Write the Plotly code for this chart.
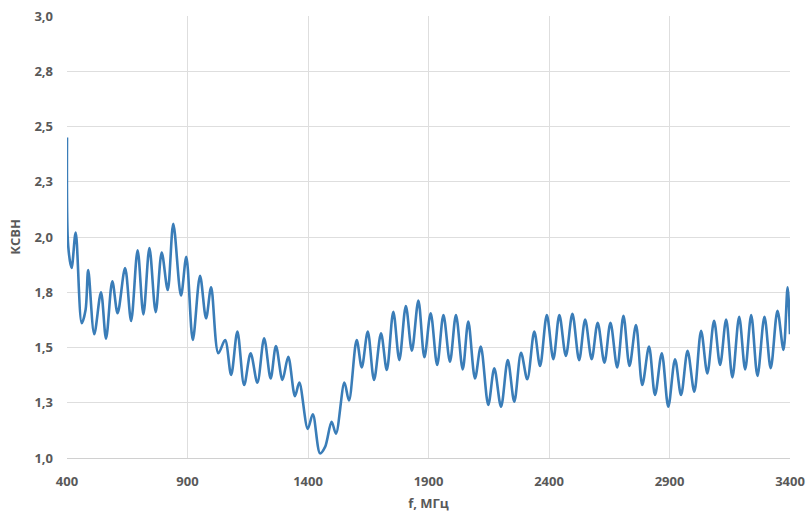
import plotly.graph_objects as go

freq_mhz = [
    400, 405, 419, 436, 461, 477, 488, 513, 541, 562,
    588, 610, 641, 666, 693, 717, 742, 768, 793, 818,
    841, 873, 895, 922, 952, 977, 998, 1028, 1056, 1081,
    1107, 1135, 1162, 1190, 1218, 1245, 1267, 1294, 1318, 1346,
    1364, 1399, 1420, 1450, 1471, 1498, 1516, 1551, 1570, 1602,
    1623, 1648, 1674, 1703, 1727, 1754, 1779, 1806, 1831, 1858,
    1883, 1909, 1936, 1962, 1989, 2014, 2042, 2065, 2093, 2117,
    2148, 2173, 2201, 2229, 2256, 2284, 2310, 2339, 2363, 2391,
    2418, 2443, 2470, 2497, 2525, 2550, 2577, 2602, 2630, 2655,
    2683, 2709, 2734, 2761, 2787, 2815, 2840, 2868, 2895, 2923,
    2948, 2975, 3003, 3031, 3057, 3085, 3110, 3135, 3161, 3189,
    3214, 3239, 3265, 3294, 3320, 3348, 3373, 3390, 3400,
]

vswr = [
    2.45, 1.96, 1.86, 2.02, 1.61, 1.67, 1.85, 1.56, 1.75, 1.54,
    1.80, 1.655, 1.86, 1.62, 1.94, 1.65, 1.95, 1.66, 1.93, 1.76,
    2.06, 1.735, 1.91, 1.534, 1.824, 1.632, 1.772, 1.474, 1.534, 1.376,
    1.572, 1.33, 1.474, 1.341, 1.542, 1.36, 1.507, 1.353, 1.458, 1.28,
    1.341, 1.132, 1.198, 1.021, 1.05, 1.164, 1.11, 1.341, 1.26, 1.534,
    1.41, 1.572, 1.353, 1.564, 1.398, 1.662, 1.443, 1.688, 1.486, 1.712,
    1.456, 1.655, 1.421, 1.647, 1.436, 1.647, 1.401, 1.617, 1.36, 1.504,
    1.24, 1.406, 1.232, 1.443, 1.255, 1.476, 1.356, 1.572, 1.416, 1.647,
    1.447, 1.647, 1.462, 1.652, 1.443, 1.627, 1.447, 1.612, 1.431, 1.612,
    1.41, 1.643, 1.416, 1.602, 1.33, 1.504, 1.285, 1.474, 1.232, 1.447,
    1.285, 1.485, 1.30, 1.576, 1.383, 1.621, 1.421, 1.627, 1.365, 1.639,
    1.401, 1.647, 1.371, 1.639, 1.406, 1.666, 1.489, 1.772, 1.56,
]

x_ticks = [400, 900, 1400, 1900, 2400, 2900, 3400]
y_ticks = [1.0, 1.25, 1.5, 1.75, 2.0, 2.25, 2.5, 2.75, 3.0]
y_tick_labels = ["1,0", "1,3", "1,5", "1,8", "2,0", "2,3", "2,5", "2,8", "3,0"]

fig = go.Figure()
fig.add_trace(go.Scatter(
    x=freq_mhz, y=vswr, mode="lines",
    line=dict(color="#3a7db8", width=2.6, shape="spline", smoothing=0.9),
    showlegend=False, hoverinfo="skip", cliponaxis=False,
))

font_family = "Open Sans, Lato, sans-serif"
tick_font = dict(family=font_family, size=13, color="#595959", weight="bold")
title_font = dict(family=font_family, size=13, color="#595959", weight="bold")

fig.update_layout(
    width=812, height=513,
    margin=dict(l=67, r=22, t=16, b=55, autoexpand=False),
    paper_bgcolor="white", plot_bgcolor="white",
    xaxis=dict(
        range=[400, 3400], tickvals=x_ticks,
        ticktext=[str(v) for v in x_ticks],
        showgrid=True, gridcolor="#dedede", gridwidth=1,
        zeroline=False, showline=True, linecolor="#d0d0d0", linewidth=1,
        ticks="", tickfont=tick_font, ticklabelstandoff=11,
        title=dict(text="f, МГц", font=title_font, standoff=10),
        automargin=False,
    ),
    yaxis=dict(
        range=[1.0, 3.0], tickvals=y_ticks, ticktext=y_tick_labels,
        showgrid=True, gridcolor="#dedede", gridwidth=1,
        zeroline=False, showline=False,
        ticks="", tickfont=tick_font, ticklabelstandoff=13,
        title=dict(text="КСВН", font=title_font, standoff=10),
        automargin=False,
    ),
)

post = (
    "document.body.style.margin='0';document.body.style.padding='0';"
    "var d=document.getElementById('{plot_id}');"
    "d.style.position='absolute';d.style.left='0px';d.style.top='0px';"
)
fig.write_html("out.html", post_script=post, config={"displayModeBar": False})
